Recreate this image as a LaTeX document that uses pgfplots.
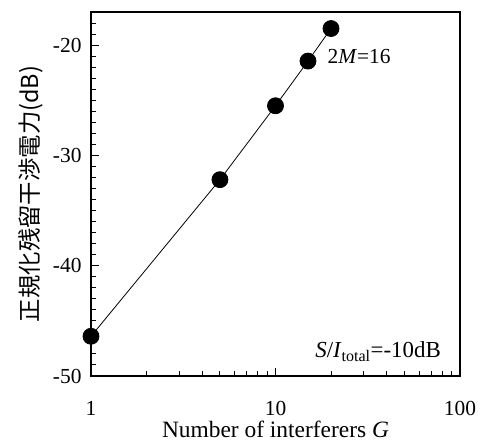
\documentclass[border=0pt]{standalone}
\usepackage{pgfplots}
\pgfplotsset{compat=1.18}
\usepackage{fontspec}
\setmainfont{Liberation Serif}
\newfontfamily\jpfont{Noto Sans CJK JP}

\begin{document}
\begin{tikzpicture}
\path[use as bounding box] (-91bp,-66bp) rectangle (401bp,376bp);
\begin{axis}[
  scale only axis,
  width=369bp, height=364bp,
  xmode=log, xmin=1, xmax=100,
  ymin=-50, ymax=-17,
  xtick={1,10,100}, xticklabels={\textrm{1},\textrm{10},\textrm{100}},
  minor xtick={2,3,4,5,6,7,8,9,20,30,40,50,60,70,80,90},
  ytick={-50,-40,-30,-20},
  yticklabels={\textrm{-50},\textrm{-40},\textrm{-30},\textrm{-20}},
  minor ytick={-49,-48,...,-18},
  xtick pos=bottom, ytick pos=left,
  tick align=inside,
  major tick length=8bp, minor tick length=5bp,
  tick style={black, line width=1bp},
  axis line style={line width=1.5bp},
  tick label style={font=\fontsize{21.5}{24}\selectfont},
  xticklabel style={yshift=-22bp},
  yticklabel style={xshift=-6bp},
  xlabel={Number of interferers \textit{G}},
  ylabel={\jpfont 正規化残留干渉電力(dB)},
  label style={font=\fontsize{23.5}{26}\selectfont},
  xlabel style={yshift=2bp},
  ylabel style={yshift=3bp},
]
\addplot[black, line width=0.8bp, mark=*, mark size=8bp, mark options={fill=black}]
  coordinates {(1,-46.4) (5,-32.2) (10,-25.5) (15,-21.45) (20,-18.5)};
\node[anchor=west, inner sep=0pt, font=\fontsize{21.5}{24}\selectfont]
  at (axis cs:19.1,-21.05) {2\textit{M}=16};
\node[anchor=east, inner sep=0pt, font=\fontsize{23}{26}\selectfont]
  at (axis cs:79,-47.8) {\textit{S}/\textit{I}\textsubscript{total}=-10dB};
\end{axis}
\end{tikzpicture}
\end{document}
